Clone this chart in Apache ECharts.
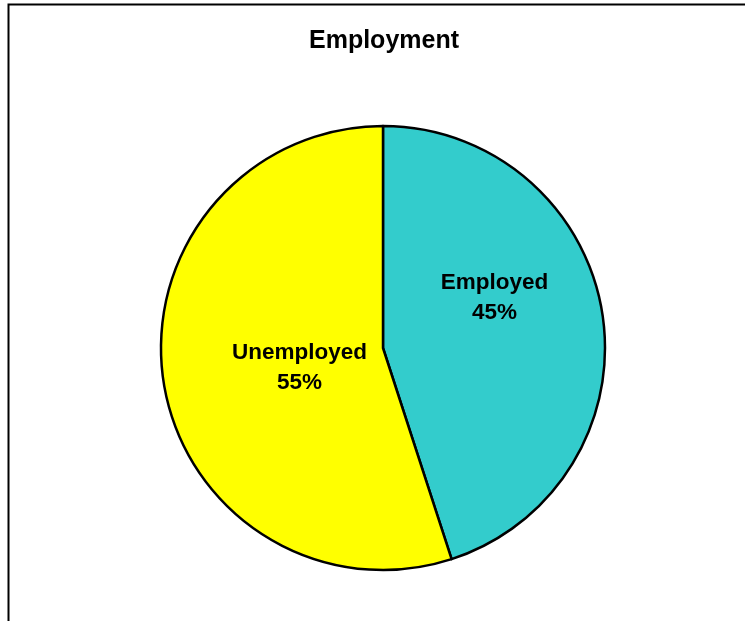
<!DOCTYPE html>
<html>
<head>
<meta charset="utf-8">
<script src="https://cdn.jsdelivr.net/npm/echarts@6/dist/echarts.min.js"></script>
<style>html,body{margin:0;padding:0;background:#fff;}#c{width:745px;height:621px;}</style>
</head>
<body>
<div id="c"></div>
<script>
var categories = ['Employed', 'Unemployed'];
var values = [45, 55];
var colors = ['#33CCCC', '#FFFF00'];
var labelOffsets = [[-1, -32], [29, 2]];

var chart = echarts.init(document.getElementById('c'), null, {renderer: 'canvas'});
chart.setOption({
  animation: false,
  backgroundColor: '#ffffff',
  title: {
    text: 'Employment',
    left: 379,
    textAlign: 'center',
    top: 24,
    textStyle: {fontFamily: 'Liberation Sans, Arial', fontWeight: 'bold', fontSize: 25, color: '#000'}
  },
  graphic: [{
    type: 'rect',
    shape: {x: 8.5, y: 4.5, width: 760, height: 640},
    style: {fill: 'none', stroke: '#000', lineWidth: 2},
    silent: true
  }],
  series: [{
    type: 'pie',
    center: [383, 348],
    radius: [0, 222],
    startAngle: 90,
    clockwise: true,
    data: categories.map(function (n, i) {
      return {
        name: n, value: values[i],
        itemStyle: {color: colors[i]},
        label: {offset: labelOffsets[i]}
      };
    }),
    itemStyle: {borderColor: '#000', borderWidth: 2.5},
    label: {
      show: true,
      position: 'inside',
      formatter: function (p) { return p.name + '\n' + Math.round(p.percent) + '%'; },
      fontFamily: 'Liberation Sans, Arial',
      fontWeight: 'bold',
      fontSize: 22.5,
      lineHeight: 30,
      color: '#000',
      align: 'center'
    },
    labelLine: {show: false},
    emphasis: {disabled: true}
  }]
});
</script>
</body>
</html>
